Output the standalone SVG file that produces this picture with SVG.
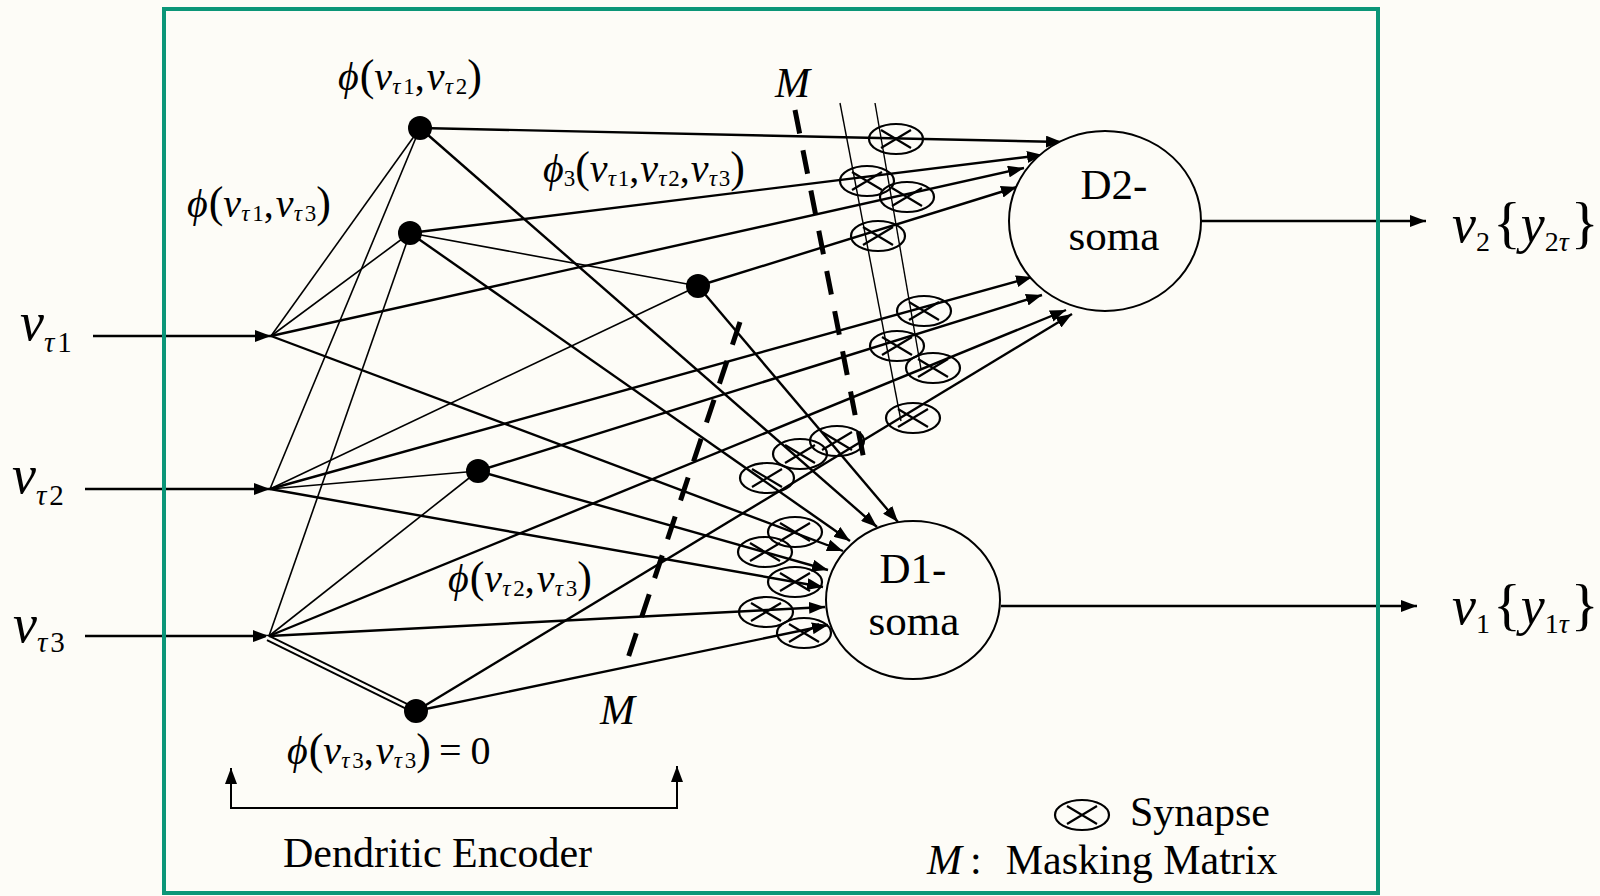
<svg xmlns="http://www.w3.org/2000/svg" width="1600" height="896" viewBox="0 0 1600 896">
<defs>
<style>
.f{font-family:"Liberation Serif","Times New Roman","DejaVu Serif",serif;fill:#000}
.i{font-style:italic}
.c{stroke:#000;fill:none}
.th{stroke-width:1.6}
.tk{stroke-width:2.4}
.ms{stroke:#000;stroke-width:5;stroke-dasharray:24 17;fill:none}
.sy{fill:none;stroke:#000;stroke-width:2.2}
.dot{fill:#000}
</style>
<marker id="ah" viewBox="0 0 16 12" refX="16" refY="6" markerWidth="16" markerHeight="12" markerUnits="userSpaceOnUse" orient="auto"><path d="M0,0 L16,6 L0,12 z" fill="#000"/></marker>
<g id="syn"><ellipse class="sy" cx="0" cy="0" rx="27" ry="15"/><path class="sy" d="M-15,-9 L15,9 M15,-9 L-15,9"/></g>
</defs>
<rect x="0" y="0" width="1600" height="896" fill="#fdfcf7"/>

<g id="connectors">
  <g class="c tk" marker-end="url(#ah)">
    <line x1="93" y1="336" x2="271" y2="336"/>
    <line x1="85" y1="489" x2="270" y2="489"/>
    <line x1="85" y1="636" x2="269" y2="636"/>
  </g>
  <g class="c th">
    <line x1="271" y1="336" x2="420" y2="128"/>
    <line x1="271" y1="336" x2="410" y2="233"/>
    <line x1="270" y1="489" x2="420" y2="128"/>
    <line x1="270" y1="489" x2="478" y2="471"/>
    <line x1="270" y1="489" x2="698" y2="286"/>
    <line x1="269" y1="636" x2="410" y2="233"/>
    <line x1="269" y1="636" x2="478" y2="471"/>
    <line x1="410" y1="233" x2="698" y2="286"/>
  </g>
  <line x1="268" y1="638" x2="416" y2="711" stroke="#000" stroke-width="6.5"/>
  <line x1="266" y1="637" x2="410" y2="708" stroke="#fdfcf7" stroke-width="3"/>
  <g class="c" stroke-width="1.4">
    <line x1="840" y1="103" x2="901" y2="421"/>
    <line x1="875" y1="103" x2="921" y2="369"/>
  </g>
  <g class="c tk" marker-end="url(#ah)">
    <line x1="420" y1="128" x2="1062" y2="142"/>
    <line x1="410" y1="233" x2="1043" y2="155"/>
    <line x1="271" y1="336" x2="1024" y2="168"/>
    <line x1="698" y1="286" x2="1017" y2="187"/>
    <line x1="270" y1="489" x2="1032" y2="277"/>
    <line x1="478" y1="471" x2="1042" y2="295"/>
    <line x1="269" y1="636" x2="1066" y2="310"/>
    <line x1="416" y1="711" x2="1072" y2="314"/>
  </g>
  <g class="c tk" marker-end="url(#ah)">
    <line x1="420" y1="128" x2="877" y2="527"/>
    <line x1="698" y1="286" x2="898" y2="522"/>
    <line x1="410" y1="233" x2="850" y2="541"/>
    <line x1="271" y1="336" x2="843" y2="551"/>
    <line x1="478" y1="471" x2="828" y2="570"/>
    <line x1="270" y1="489" x2="823" y2="587"/>
    <line x1="269" y1="636" x2="825" y2="607"/>
    <line x1="416" y1="711" x2="828" y2="625"/>
  </g>
  <g class="c tk" marker-end="url(#ah)">
    <line x1="1201" y1="221" x2="1426" y2="221"/>
    <line x1="1001" y1="606" x2="1417" y2="606"/>
  </g>
  <line class="ms" x1="795" y1="110" x2="864" y2="460"/>
  <line class="ms" x1="740" y1="322" x2="624" y2="670"/>
  <g class="c" stroke-width="2">
    <polyline points="231,772 231,808 677,808 677,772"/>
  </g>
  <g class="c" stroke-width="2" marker-end="url(#ah)">
    <line x1="231" y1="790" x2="231" y2="768"/>
    <line x1="677" y1="790" x2="677" y2="766"/>
  </g>
</g>

<g id="synapses">
  <use href="#syn" x="896" y="139"/>
  <use href="#syn" x="867" y="181"/>
  <use href="#syn" x="907" y="197"/>
  <use href="#syn" x="878" y="236"/>
  <use href="#syn" x="924" y="311"/>
  <use href="#syn" x="897" y="346"/>
  <use href="#syn" x="933" y="368"/>
  <use href="#syn" x="913" y="418"/>
  <use href="#syn" x="767" y="478"/>
  <use href="#syn" x="800" y="454"/>
  <use href="#syn" x="837" y="441"/>
  <use href="#syn" x="795" y="532"/>
  <use href="#syn" x="765" y="552"/>
  <use href="#syn" x="795" y="582"/>
  <use href="#syn" x="766" y="612"/>
  <use href="#syn" x="804" y="633"/>
</g>

<g id="node-phi12"><circle class="dot" cx="420" cy="128" r="12"/>
<text class="f" x="338" y="90" font-size="40"><tspan class="i">ϕ</tspan><tspan font-size="44" dx="1">(</tspan><tspan class="i">v</tspan><tspan font-size="23" dy="4"><tspan class="i">τ</tspan><tspan dx="3">1</tspan></tspan><tspan dy="-4">,</tspan><tspan class="i" dx="2">v</tspan><tspan font-size="23" dy="4"><tspan class="i">τ</tspan><tspan dx="3">2</tspan></tspan><tspan font-size="44" dy="-4">)</tspan></text></g>

<g id="node-phi13"><circle class="dot" cx="410" cy="233" r="12"/>
<text class="f" x="187" y="217" font-size="40"><tspan class="i">ϕ</tspan><tspan font-size="44" dx="1">(</tspan><tspan class="i">v</tspan><tspan font-size="23" dy="4"><tspan class="i">τ</tspan><tspan dx="3">1</tspan></tspan><tspan dy="-4">,</tspan><tspan class="i" dx="2">v</tspan><tspan font-size="23" dy="4"><tspan class="i">τ</tspan><tspan dx="3">3</tspan></tspan><tspan font-size="44" dy="-4">)</tspan></text></g>

<g id="node-phi3"><circle class="dot" cx="698" cy="286" r="12"/>
<text class="f" x="543" y="182" font-size="40"><tspan class="i">ϕ</tspan><tspan font-size="23" dy="4">3</tspan><tspan font-size="44" dy="-4">(</tspan><tspan class="i">v</tspan><tspan font-size="23" dy="4"><tspan class="i">τ</tspan><tspan dx="2">1</tspan></tspan><tspan dy="-4">,</tspan><tspan class="i" dx="1">v</tspan><tspan font-size="23" dy="4"><tspan class="i">τ</tspan><tspan dx="2">2</tspan></tspan><tspan dy="-4">,</tspan><tspan class="i" dx="1">v</tspan><tspan font-size="23" dy="4"><tspan class="i">τ</tspan><tspan dx="2">3</tspan></tspan><tspan font-size="44" dy="-4">)</tspan></text></g>

<g id="node-phi23"><circle class="dot" cx="478" cy="471" r="12"/>
<text class="f" x="448" y="592" font-size="40"><tspan class="i">ϕ</tspan><tspan font-size="44" dx="1">(</tspan><tspan class="i">v</tspan><tspan font-size="23" dy="4"><tspan class="i">τ</tspan><tspan dx="3">2</tspan></tspan><tspan dy="-4">,</tspan><tspan class="i" dx="2">v</tspan><tspan font-size="23" dy="4"><tspan class="i">τ</tspan><tspan dx="3">3</tspan></tspan><tspan font-size="44" dy="-4">)</tspan></text></g>

<g id="node-phi33"><circle class="dot" cx="416" cy="711" r="12"/>
<text class="f" x="287" y="764" font-size="40"><tspan class="i">ϕ</tspan><tspan font-size="44" dx="1">(</tspan><tspan class="i">v</tspan><tspan font-size="23" dy="4"><tspan class="i">τ</tspan><tspan dx="3">3</tspan></tspan><tspan dy="-4">,</tspan><tspan class="i" dx="2">v</tspan><tspan font-size="23" dy="4"><tspan class="i">τ</tspan><tspan dx="3">3</tspan></tspan><tspan font-size="44" dy="-4">)</tspan><tspan dx="8">=</tspan><tspan dx="9">0</tspan></text></g>

<g id="input-v1"><text class="f" x="20" y="340" font-size="54"><tspan class="i">v</tspan><tspan font-size="29" dy="12"><tspan class="i">τ</tspan><tspan dx="3">1</tspan></tspan></text></g>
<g id="input-v2"><text class="f" x="12" y="493" font-size="54"><tspan class="i">v</tspan><tspan font-size="29" dy="12"><tspan class="i">τ</tspan><tspan dx="3">2</tspan></tspan></text></g>
<g id="input-v3"><text class="f" x="13" y="642" font-size="54"><tspan class="i">v</tspan><tspan font-size="29" dy="10"><tspan class="i">τ</tspan><tspan dx="3">3</tspan></tspan></text></g>

<g id="soma-D2"><ellipse cx="1105" cy="221" rx="96" ry="90" fill="#fdfcf7" stroke="#000" stroke-width="2"/>
<text class="f" x="1114" y="199" font-size="43" text-anchor="middle">D2-</text>
<text class="f" x="1114" y="250" font-size="43" text-anchor="middle">soma</text></g>

<g id="soma-D1"><ellipse cx="913" cy="600" rx="87" ry="79" fill="#fdfcf7" stroke="#000" stroke-width="2"/>
<text class="f" x="913" y="583" font-size="43" text-anchor="middle">D1-</text>
<text class="f" x="914" y="635" font-size="43" text-anchor="middle">soma</text></g>

<g id="output-v2"><text class="f" x="1452" y="242" font-size="54"><tspan class="i">v</tspan><tspan font-size="28" dy="9">2</tspan><tspan dy="-9" dx="3" font-size="58">{</tspan><tspan class="i">y</tspan><tspan font-size="28" dy="9">2<tspan class="i">τ</tspan></tspan><tspan dy="-9" dx="2" font-size="58">}</tspan></text></g>
<g id="output-v1"><text class="f" x="1452" y="624" font-size="54"><tspan class="i">v</tspan><tspan font-size="28" dy="9">1</tspan><tspan dy="-9" dx="3" font-size="58">{</tspan><tspan class="i">y</tspan><tspan font-size="28" dy="9">1<tspan class="i">τ</tspan></tspan><tspan dy="-9" dx="2" font-size="58">}</tspan></text></g>

<g id="labels">
  <text class="f i" x="775" y="97" font-size="42">M</text>
  <text class="f i" x="600" y="724" font-size="42">M</text>
  <text class="f" x="283" y="867" font-size="42">Dendritic Encoder</text>
  <use href="#syn" x="1082" y="815"/>
  <text class="f" x="1130" y="826" font-size="42">Synapse</text>
  <text class="f" x="927" y="874" font-size="42"><tspan class="i">M</tspan><tspan dx="8">:</tspan><tspan dx="24">Masking Matrix</tspan></text>
</g>

<rect x="164" y="9" width="1214" height="884" fill="none" stroke="#0b9678" stroke-width="4"/>
</svg>
